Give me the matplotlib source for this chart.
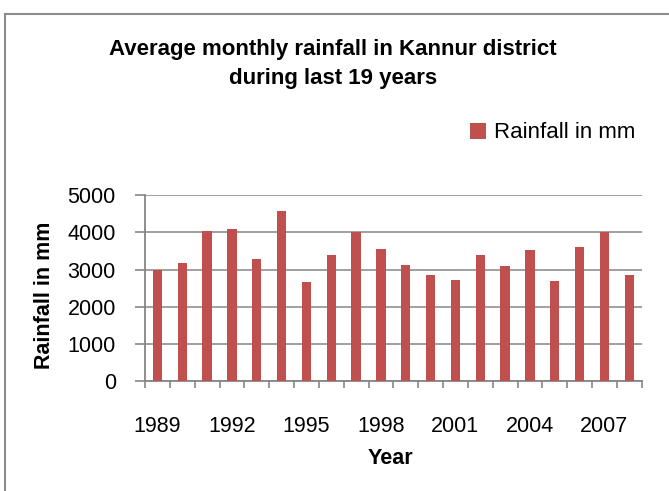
import matplotlib
matplotlib.use("Agg")
import matplotlib.pyplot as plt
from matplotlib.patches import Rectangle
import numpy as np

plt.rcParams['font.family'] = ['Liberation Sans', 'DejaVu Sans']

years = list(range(1989, 2009))
rainfall = [2985, 3165, 4030, 4095, 3290, 4560, 2655, 3390, 4015, 3550,
            3120, 2845, 2730, 3380, 3085, 3535, 2690, 3605, 4015, 2845]
tick_years = [1989, 1992, 1995, 1998, 2001, 2004, 2007]
yticks = [0, 1000, 2000, 3000, 4000, 5000]

W, H = 669, 491
fig = plt.figure(figsize=(W/100, H/100), dpi=100)
fig.patch.set_facecolor('white')

# outer chart border
fig.patches.append(Rectangle((5/W, -0.02), 1.0, 1 - 14/H + 0.02,
                             transform=fig.transFigure, fill=False,
                             edgecolor='#8c8c8c', linewidth=1.5))

ax = fig.add_axes([145/W, 1 - 381.3/H, (641.7-145)/W, (381.3-195)/H])
x = np.arange(len(years))
bars = ax.bar(x, rainfall, width=0.38, color='#C0504D', zorder=3,
              label='Rainfall in mm')

ax.set_xlim(-0.5, len(years) - 0.5)
ax.set_ylim(0, 5000)
ax.set_yticks(yticks)
ax.set_yticklabels([str(v) for v in yticks], fontsize=15.5)
ax.yaxis.grid(True, color='#999999', linewidth=1.3, zorder=0)

ax.set_xticks(np.arange(-0.5, len(years), 1.0))
ax.set_xticklabels([])
ax.set_xticks([years.index(y) for y in tick_years], minor=True)
ax.set_xticklabels([str(y) for y in tick_years], minor=True, fontsize=15.5)
ax.tick_params(axis='x', which='major', length=5, color='#868686', width=1.2)
ax.tick_params(axis='x', which='minor', length=0, pad=25)
ax.tick_params(axis='y', length=7, color='#868686', width=1.2, pad=14)

for s in ['top', 'right']:
    ax.spines[s].set_visible(False)
for s in ['left', 'bottom']:
    ax.spines[s].set_color('#868686')
    ax.spines[s].set_linewidth(1.3)

fig.text(45/W, 1 - 295/H, 'Rainfall in mm', rotation=90, fontsize=15.5,
         fontweight='bold', ha='center', va='center')
fig.text(390/W, 1 - 458/H, 'Year', fontsize=15.5, fontweight='bold',
         ha='center', va='center')

fig.text(333/W, 1 - 64/H,
         'Average monthly rainfall in Kannur district\nduring last 19 years',
         fontsize=16, fontweight='bold', ha='center', va='center',
         multialignment='center', linespacing=1.45)

fig.legend(handles=[bars], labels=['Rainfall in mm'], loc='center left',
           bbox_to_anchor=(470/W, 1 - 133/H), frameon=False, fontsize=16,
           handlelength=0.7, handleheight=0.7, handletextpad=0.4,
           borderpad=0, borderaxespad=0)

fig.savefig('out.png', dpi=100, facecolor='white')
